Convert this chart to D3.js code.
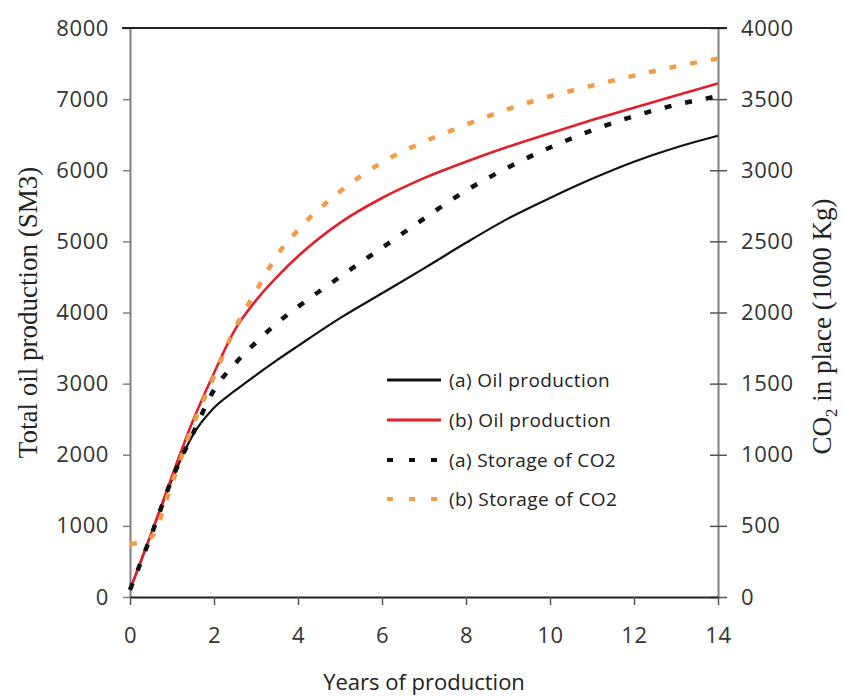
<!DOCTYPE html>
<html>
<head>
<meta charset="utf-8">
<script src="https://cdn.jsdelivr.net/npm/d3@7"></script>
<style>
  html, body { margin: 0; padding: 0; background: #fff; }
  svg { display: block; }
</style>
</head>
<body>
<svg id="chart" width="843" height="697"></svg>
<script>
// Years of production (x values shared by all series)
const years = [0, 0.5, 1, 1.5, 2, 2.5, 3, 3.5, 4, 5, 6, 7, 8, 9, 10, 11, 12, 13, 14];

// Total oil production (SM3), left axis
const oilA = [100, 880, 1650, 2280, 2660, 2900, 3120, 3330, 3530, 3920, 4270, 4620, 4980, 5320, 5610, 5880, 6120, 6320, 6485];
const oilB = [100, 880, 1700, 2480, 3150, 3760, 4170, 4500, 4790, 5260, 5610, 5890, 6120, 6330, 6520, 6705, 6880, 7050, 7220];

// CO2 in place (1000 Kg), right axis
const co2A = [50, 430, 830, 1150, 1455, 1640, 1790, 1925, 2040, 2250, 2455, 2660, 2857, 3020, 3160, 3280, 3380, 3460, 3520];
const co2B = [370, 420, 800, 1210, 1550, 1890, 2150, 2400, 2580, 2850, 3055, 3200, 3320, 3430, 3520, 3595, 3665, 3730, 3785];

const xTicks = [0, 2, 4, 6, 8, 10, 12, 14];
const yLeftTicks = [0, 1000, 2000, 3000, 4000, 5000, 6000, 7000, 8000];
const yRightTicks = [0, 500, 1000, 1500, 2000, 2500, 3000, 3500, 4000];

const legendLabels = ["(a) Oil production", "(b) Oil production", "(a) Storage of CO2", "(b) Storage of CO2"];

const svg = d3.select("#chart");
const m = { left: 130, right: 843 - 718, top: 28, bottom: 697 - 597 };
const W = 843, H = 697;

const x = d3.scaleLinear().domain([0, 14]).range([m.left, W - m.right]);
const yL = d3.scaleLinear().domain([0, 8000]).range([H - m.bottom, m.top]);
const yR = d3.scaleLinear().domain([0, 4000]).range([H - m.bottom, m.top]);

const sans = "'Open Sans', 'Liberation Sans', sans-serif";
const serif = "'Liberation Serif', 'DejaVu Serif', serif";
const fmt = d3.format("d");

function styleTickText(g) {
  g.selectAll(".tick text")
    .attr("font-family", sans).attr("font-size", 22)
    .attr("letter-spacing", 0.6).attr("fill", "#333");
}

// Left axis
const gL = svg.append("g").attr("transform", `translate(${m.left},0)`)
  .call(d3.axisLeft(yL).tickValues(yLeftTicks).tickFormat(fmt).tickSize(7).tickPadding(14).tickSizeOuter(0));
gL.select(".domain").attr("stroke", "#808080").attr("stroke-width", 2);
gL.selectAll(".tick line").attr("stroke", "#808080").attr("stroke-width", 1.5);
styleTickText(gL);

// Right axis: ticks cross the axis line
const gR = svg.append("g").attr("transform", `translate(${W - m.right},0)`)
  .call(d3.axisRight(yR).tickValues(yRightTicks).tickFormat(fmt).tickSize(9).tickPadding(14).tickSizeOuter(0));
gR.select(".domain").attr("stroke", "#808080").attr("stroke-width", 2);
gR.selectAll(".tick line").attr("x1", -8).attr("stroke", "#555").attr("stroke-width", 1.5);
styleTickText(gR);

// Bottom axis
const gB = svg.append("g").attr("transform", `translate(0,${H - m.bottom})`)
  .call(d3.axisBottom(x).tickValues(xTicks).tickFormat(fmt).tickSize(8).tickPadding(22).tickSizeOuter(0));
gB.select(".domain").attr("stroke", "#222").attr("stroke-width", 2.2);
gB.selectAll(".tick line").attr("stroke", "#555").attr("stroke-width", 1.5);
styleTickText(gB);

// Top frame line
svg.append("line")
  .attr("x1", m.left - 8).attr("x2", W - m.right + 9)
  .attr("y1", yL(8000)).attr("y2", yL(8000))
  .attr("stroke", "#222").attr("stroke-width", 2.2);

// Series
const lineL = d3.line().x((d, i) => x(years[i])).y(d => yL(d)).curve(d3.curveMonotoneX);
const lineR = d3.line().x((d, i) => x(years[i])).y(d => yR(d)).curve(d3.curveMonotoneX);

const series = [
  { data: oilA, line: lineL, color: "#111", width: 2.2, dash: null },
  { data: oilB, line: lineL, color: "#e0202a", width: 2.6, dash: null },
  { data: co2A, line: lineR, color: "#111", width: 4.5, dash: "7,14" },
  { data: co2B, line: lineR, color: "#f29c48", width: 4.5, dash: "7,14" }
];

series.forEach(s => {
  svg.append("path")
    .attr("d", s.line(s.data))
    .attr("fill", "none")
    .attr("stroke", s.color)
    .attr("stroke-width", s.width)
    .attr("stroke-dasharray", s.dash);
});

// Legend
const legendY = [380, 420, 460, 499];
const lg = svg.append("g");
series.forEach((s, i) => {
  lg.append("line")
    .attr("x1", 387).attr("x2", 441)
    .attr("y1", legendY[i]).attr("y2", legendY[i])
    .attr("stroke", s.color)
    .attr("stroke-width", s.dash ? 4 : s.width + 0.6)
    .attr("stroke-dasharray", s.dash ? "6,16" : null);
  lg.append("text")
    .attr("x", 449).attr("y", legendY[i])
    .attr("dy", "0.35em")
    .attr("font-family", sans).attr("font-size", 19)
    .attr("letter-spacing", 0.4).attr("fill", "#222")
    .text(legendLabels[i]);
});

// Axis titles
svg.append("text")
  .attr("transform", `translate(37,${(yL(0) + yL(8000)) / 2}) rotate(-90)`)
  .attr("text-anchor", "middle")
  .attr("font-family", serif).attr("font-size", 27).attr("fill", "#222")
  .text("Total oil production (SM3)");

const rt = svg.append("text")
  .attr("transform", `translate(831,${(yR(0) + yR(4000)) / 2 + 14}) rotate(-90)`)
  .attr("text-anchor", "middle")
  .attr("font-family", serif).attr("font-size", 27).attr("fill", "#222");
rt.append("tspan").text("CO");
rt.append("tspan").attr("font-size", 17).attr("dy", 6).text("2");
rt.append("tspan").attr("dy", -6).text(" in place (1000 Kg)");

svg.append("text")
  .attr("x", x(7)).attr("y", 690)
  .attr("text-anchor", "middle")
  .attr("font-family", sans).attr("font-size", 22).attr("fill", "#222")
  .text("Years of production");
</script>
</body>
</html>
